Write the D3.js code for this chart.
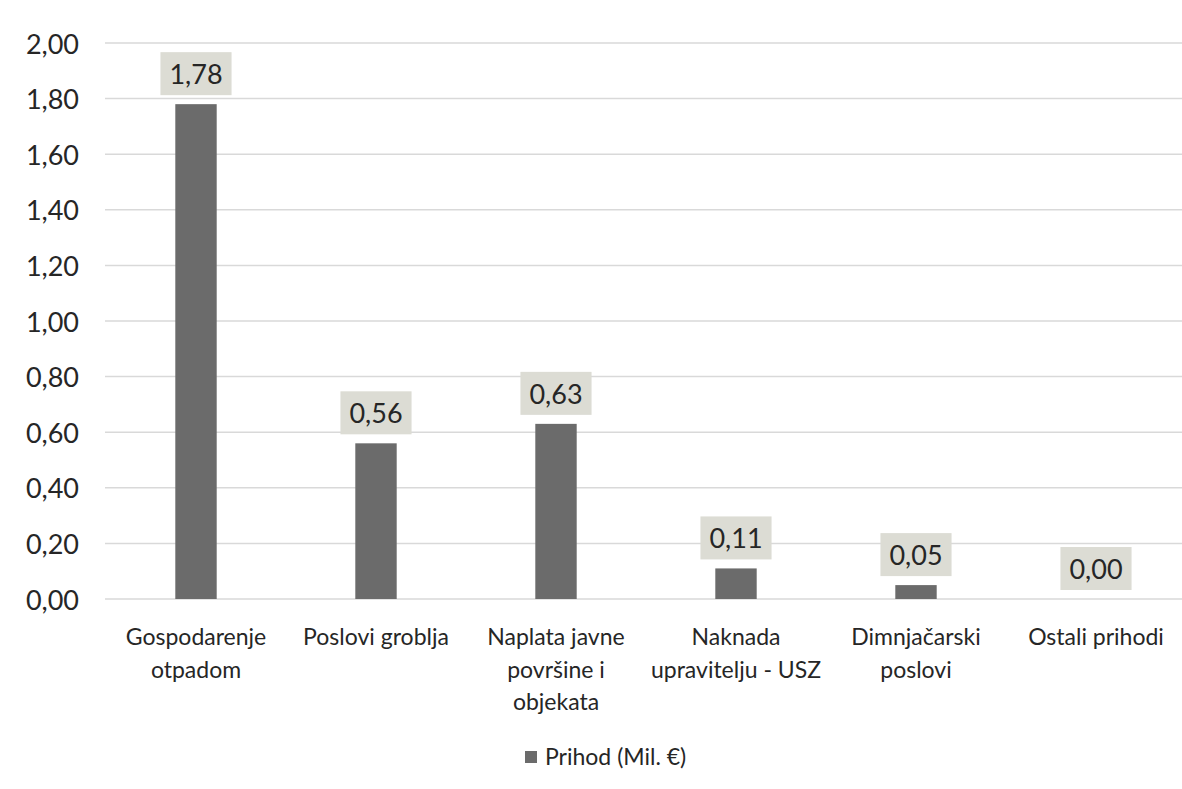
<!DOCTYPE html>
<html><head><meta charset="utf-8">
<script src="https://cdn.jsdelivr.net/npm/d3@7"></script>
<style>body{margin:0;background:#fff}svg{display:block}text{font-family:Lato,"Open Sans",sans-serif;fill:#262626}</style>
</head><body>
<svg id="chart" width="1182" height="789"></svg>
<script>
const categories = ["Gospodarenje otpadom","Poslovi groblja","Naplata javne površine i objekata","Naknada upravitelju - USZ","Dimnjačarski poslovi","Ostali prihodi"];
const categoryLines = [["Gospodarenje","otpadom"],["Poslovi groblja"],["Naplata javne","površine i","objekata"],["Naknada","upravitelju - USZ"],["Dimnjačarski","poslovi"],["Ostali prihodi"]];
const values = [1.78, 0.56, 0.63, 0.11, 0.05, 0.00];
const yTicks = [0,0.2,0.4,0.6,0.8,1.0,1.2,1.4,1.6,1.8,2.0];
const seriesName = "Prihod (Mil. €)";

const svg = d3.select("#chart");
const fmt = v => d3.format(".2f")(v).replace(".", ",");
const barColor = "#6b6b6b";

const x = d3.scaleBand().domain(categories).range([106,1186]).paddingInner(0.77).paddingOuter(0.385);
const y = d3.scaleLinear().domain([0,2]).range([599,43]);

// gridlines
svg.append("g").selectAll("line").data(yTicks).join("line")
  .attr("x1",105).attr("x2",1182)
  .attr("y1",d=>y(d)).attr("y2",d=>y(d))
  .attr("stroke","#d9d9d9").attr("stroke-width",1.5);

// y labels
svg.append("g").selectAll("text").data(yTicks).join("text")
  .attr("x",79).attr("y",d=>y(d)).attr("text-anchor","end")
  .attr("dominant-baseline","central").style("font-size","27px")
  .text(fmt);

// bars
svg.append("g").selectAll("rect").data(values).join("rect")
  .attr("x",(d,i)=>x(categories[i])).attr("width",x.bandwidth())
  .attr("y",d=>y(d)).attr("height",d=>y(0)-y(d))
  .attr("fill",barColor);

// value labels
const vl = svg.append("g").selectAll("g").data(values).join("g")
  .attr("transform",(d,i)=>`translate(${x(categories[i])+x.bandwidth()/2},${y(d)-9})`);
vl.append("rect").attr("fill","#dcdcd4");
vl.append("text").attr("text-anchor","middle").attr("y",-21.5)
  .attr("dominant-baseline","central").style("font-size","27px").text(fmt);
vl.each(function(){
  const g = d3.select(this);
  const w = g.select("text").node().getComputedTextLength();
  g.select("rect").attr("x",-w/2-9).attr("width",w+18).attr("y",-43).attr("height",43);
});

// category labels
const cl = svg.append("g").selectAll("text").data(categoryLines).join("text")
  .attr("text-anchor","middle").style("font-size","23px")
  .attr("transform",(d,i)=>`translate(${x(categories[i])+x.bandwidth()/2},645)`);
cl.selectAll("tspan").data(d=>d).join("tspan")
  .attr("x",0).attr("dy",(d,i)=>i?32.5:0).text(d=>d);

// legend
svg.append("rect").attr("x",525).attr("y",751).attr("width",12).attr("height",12).attr("fill",barColor);
svg.append("text").attr("x",545).attr("y",765).style("font-size","23px").text(seriesName);
</script>
</body></html>
